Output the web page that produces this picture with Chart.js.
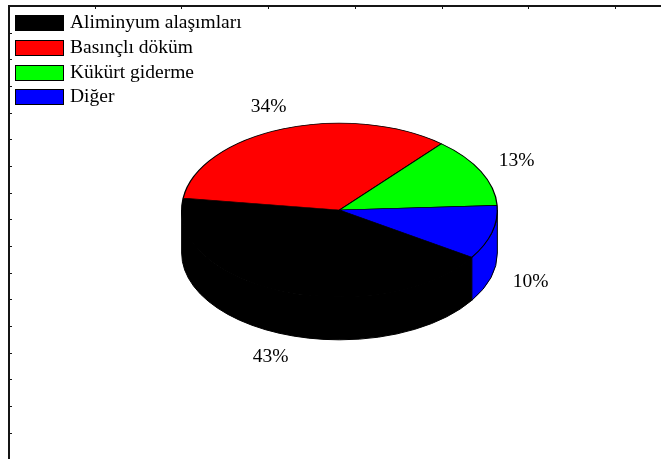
<!DOCTYPE html>
<html>
<head>
<meta charset="utf-8">
<script src="https://cdn.jsdelivr.net/npm/chart.js@4.4.0/dist/chart.umd.min.js"></script>
<style>
    html, body { margin: 0; padding: 0; background: #fff; }
</style>
</head>
<body>
<canvas id="pieChart" width="661" height="459"></canvas>
<script>
const labels = ['Aliminyum alaşımları', 'Basınçlı döküm', 'Kükürt giderme', 'Diğer'];
const shares = [43, 34, 13, 10];
const colors = ['#000000', '#ff0000', '#00ff00', '#0000ff'];

const tilt = 0.55;   // vertical squash of the top face
const depth = 43;    // height of the side wall
const font = '19.5px "Liberation Serif", "Times New Roman", serif';

// Fake 3D: draw the visible side wall, then squash the library's arcs into an ellipse
const pie3d = {
    id: 'pie3d',
    beforeDraw: (chart) => {
        const ctx = chart.ctx;
        ctx.save();
        ctx.fillStyle = '#fff';
        ctx.fillRect(0, 0, chart.width, chart.height);
        // frame with small ticks along top and left
        ctx.fillStyle = '#151515';
        ctx.fillRect(8, 5, chart.width - 8, 2);
        ctx.fillRect(8, 5, 2, chart.height - 5);
        for (let k = 1; k < 8; k++) {
            ctx.fillRect(Math.round(8 + 86.7 * k), 7, 1, 2);
        }
        for (let k = 1; k < 17; k++) {
            ctx.fillRect(10, Math.round(6 + 26.67 * k), 2, 1);
        }
        ctx.restore();
    },
    beforeDatasetsDraw: (chart) => {
        const ctx = chart.ctx;
        const arcs = chart.getDatasetMeta(0).data;
        const cx = arcs[0].x;
        const cy = arcs[0].y;
        const rx = arcs[0].outerRadius;
        const ry = rx * tilt;

        ctx.save();
        // underlay of the top face so the wall joins it without a seam
        arcs.forEach((arc, i) => {
            ctx.beginPath();
            ctx.moveTo(cx, cy);
            ctx.ellipse(cx, cy, rx, ry, 0, arc.startAngle, arc.endAngle);
            ctx.closePath();
            ctx.fillStyle = colors[i];
            ctx.fill();
        });

        // only the front half (canvas angles 0..PI) of the wall shows
        ctx.lineWidth = 1;
        ctx.strokeStyle = '#000';
        arcs.forEach((arc, i) => {
            for (let n = -1; n <= 2; n++) {
                const a = Math.max(arc.startAngle, n * 2 * Math.PI);
                const b = Math.min(arc.endAngle, n * 2 * Math.PI + Math.PI);
                if (b <= a) continue;
                ctx.beginPath();
                ctx.ellipse(cx, cy, rx, ry, 0, a, b);
                ctx.ellipse(cx, cy + depth, rx, ry, 0, b, a, true);
                ctx.closePath();
                ctx.fillStyle = colors[i];
                ctx.fill();
                ctx.stroke();
            }
        });
        ctx.restore();

        ctx.save();
        ctx.translate(0, cy);
        ctx.scale(1, tilt);
        ctx.translate(0, -cy);
    },
    afterDatasetsDraw: (chart) => {
        const ctx = chart.ctx;
        ctx.restore();

        const arcs = chart.getDatasetMeta(0).data;
        const cx = arcs[0].x;
        const cy = arcs[0].y;
        const rx = arcs[0].outerRadius;
        const ry = rx * tilt;
        const total = shares.reduce((s, v) => s + v, 0);

        // percentage labels outside each slice
        ctx.save();
        ctx.font = font;
        ctx.fillStyle = '#000';
        ctx.textAlign = 'center';
        ctx.textBaseline = 'middle';
        arcs.forEach((arc, i) => {
            const mid = (arc.startAngle + arc.endAngle) / 2;
            const s = Math.sin(mid);
            const x = cx + (rx + 40) * Math.cos(mid);
            const y = cy + (ry + 24) * s + (s > 0 ? depth : 0);
            ctx.fillText(Math.round(shares[i] / total * 100) + '%', x, y);
        });
        ctx.restore();
    },
    afterDraw: (chart) => {
        const ctx = chart.ctx;
        ctx.save();
        ctx.font = font;
        ctx.textBaseline = 'middle';
        ctx.lineWidth = 1;
        ctx.strokeStyle = '#000';
        labels.forEach((label, i) => {
            const y = Math.round(15 + i * 24.8);
            ctx.fillStyle = colors[i];
            ctx.fillRect(15, y, 49, 16);
            ctx.strokeRect(15.5, y + 0.5, 48, 15);
            ctx.fillStyle = '#000';
            ctx.fillText(label, 70, y + 8);
        });
        ctx.restore();
    }
};

const pieChart = new Chart(document.getElementById('pieChart'), {
    type: 'pie',
    data: {
        labels: labels,
        datasets: [{
            data: shares,
            backgroundColor: colors,
            borderColor: '#000',
            borderWidth: 1.3,
            clip: false
        }]
    },
    plugins: [pie3d],
    options: {
        responsive: false,
        animation: false,
        events: [],
        rotation: 123,
        layout: {
            padding: {
                left: 181,
                top: 51.5,
                right: 163,
                bottom: 90.5
            }
        },
        plugins: {
            legend: { display: false },
            tooltip: { enabled: false }
        }
    }
});
</script>
</body>
</html>
